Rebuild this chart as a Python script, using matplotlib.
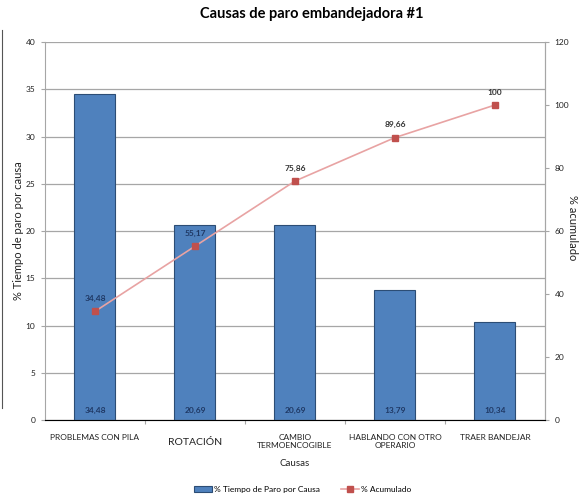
import matplotlib.pyplot as plt
from matplotlib.ticker import MultipleLocator

plt.rcParams['font.family'] = ['Lato', 'DejaVu Sans']

# pareto data
causas = ["PROBLEMAS CON PILA", "ROTACIÓN", "CAMBIO\nTERMOENCOGIBLE",
          "HABLANDO CON OTRO\nOPERARIO", "TRAER BANDEJAR"]
tiempo_paro = [34.48, 20.69, 20.69, 13.79, 10.34]
acumulado = [34.48, 55.17, 75.86, 89.66, 100]

bar_color = "#4F81BD"
bar_edge = "#2C4D75"
line_color = "#E8A3A3"
marker_color = "#C0504D"
text_dark = "#1F3864"

fig = plt.figure(figsize=(5.82, 4.98), dpi=100)
ax = fig.add_axes([0.0773, 0.1566, 0.859, 0.759])
x = range(len(causas))

ax.bar(x, tiempo_paro, width=0.41, color=bar_color, edgecolor=bar_edge,
       linewidth=0.8, zorder=2, label="% Tiempo de Paro por Causa")
for xi, v in zip(x, tiempo_paro):
    ax.text(xi, 0.6, f"{v:.2f}".replace(".", ","), ha="center", va="bottom",
            fontsize=6, fontweight="bold", color=text_dark, zorder=3)

ax.set_xlim(-0.5, len(causas) - 0.5)
ax.set_ylim(0, 40)
ax.yaxis.set_major_locator(MultipleLocator(5))
ax.grid(axis="y", color="#A6A6A6", linewidth=0.9, zorder=0)
ax.set_axisbelow(True)
ax.spines["top"].set_visible(False)
for side in ["left", "right", "bottom"]:
    ax.spines[side].set_color("#A6A6A6")
ax.tick_params(axis="y", labelsize=6, length=3, color="#A6A6A6", pad=4,
               labelcolor="#222222")
ax.tick_params(axis="x", length=3, color="#A6A6A6", pad=3, labelsize=6)
ax.set_xticks([i + 0.5 for i in range(len(causas) - 1)], minor=False)
ax.set_xticklabels([])
ax.set_xticks(list(x), minor=True)
ax.set_xticklabels(causas, minor=True, fontsize=6, color="#222222")
ax.tick_params(axis="x", which="minor", length=0, pad=10)
for lbl in ax.get_xticklabels(minor=True):
    if lbl.get_text() == "ROTACIÓN":
        lbl.set_fontsize(7.5)
        lbl.set_y(-0.01)
ax.text(-0.052, 0.5, "% Tiempo de paro por causa", transform=ax.transAxes,
        rotation=90, ha="center", va="center", fontsize=8, color="#222222")
ax.set_xlabel("Causas", fontsize=7, labelpad=7, color="#222222")

ax2 = ax.twinx()
ax2.plot(x, acumulado, color=line_color, linewidth=1.2, marker="s",
         markersize=4.5, markerfacecolor=marker_color,
         markeredgecolor=marker_color, label="% Acumulado", zorder=4)
for xi, v in zip(x, acumulado):
    lbl = f"{v:.2f}".replace(".", ",") if v != 100 else "100"
    ax2.text(xi, v + 3, lbl, ha="center", va="bottom", fontsize=6,
             fontweight="bold", color=text_dark if xi < 2 else "#333333",
             zorder=5)
ax2.set_ylim(0, 120)
ax2.yaxis.set_major_locator(MultipleLocator(20))
ax2.spines["top"].set_visible(False)
ax2.spines["right"].set_color("#A6A6A6")
ax2.spines["left"].set_visible(False)
ax2.tick_params(axis="y", labelsize=6, length=3, color="#A6A6A6", pad=4,
                labelcolor="#222222")
ax2.text(1.056, 0.51, "% acumulado", transform=ax2.transAxes, rotation=-90,
         ha="center", va="center", fontsize=8, color="#222222")

fig.suptitle("Causas de paro embandejadora #1", fontsize=10.5,
             fontweight="bold", x=0.535, y=0.985)

h1, l1 = ax.get_legend_handles_labels()
h2, l2 = ax2.get_legend_handles_labels()
fig.legend(h1 + h2, l1 + l2, loc="lower center", ncol=2, frameon=False,
           fontsize=6, bbox_to_anchor=(0.52, -0.005), handlelength=2.2,
           handleheight=0.6, columnspacing=2.5, handletextpad=0.2)

# thin frame edge on the far left
fig.add_artist(plt.Line2D([0.003, 0.003], [0.18, 0.94], color="#555555",
                          linewidth=0.8, transform=fig.transFigure))

fig.savefig("out.png", dpi=100)
